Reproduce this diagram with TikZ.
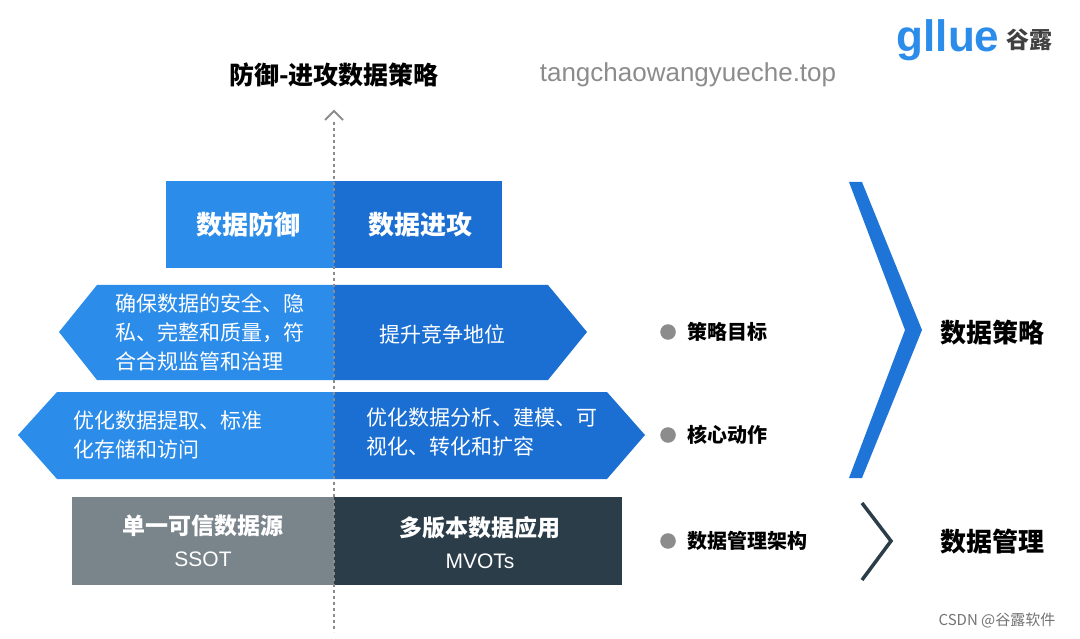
\documentclass[tikz,border=0pt]{standalone}
\usepackage{fontspec}
\setmainfont{Noto Sans CJK SC}
\setsansfont{Liberation Sans}
\usetikzlibrary{positioning}
\definecolor{defblue}{HTML}{2B8CEA}
\definecolor{attblue}{HTML}{1B6FD2}
\definecolor{ssotgray}{HTML}{7A848B}
\definecolor{mvotdark}{HTML}{2B3D49}
\definecolor{dotgray}{HTML}{8C8C8C}
\tikzset{
  boxtext/.style={text=white, font=\fontsize{21}{29}\selectfont, align=left},
  headtext/.style={text=white, font=\bfseries\fontsize{26}{30}\selectfont},
  bullettext/.style={font=\bfseries\fontsize{20}{22}\selectfont, right},
  sidetext/.style={font=\bfseries\fontsize{26}{30}\selectfont},
}
\begin{document}
\begin{tikzpicture}[x=1pt,y=-1pt]
  \useasboundingbox (0,0) rectangle (1080,639);

  % Title and watermark
  \node[font=\bfseries\fontsize{25}{28}\selectfont] (title) at (334,75) {防御-进攻数据策略};
  \node[font=\sffamily\fontsize{26}{28}\selectfont, text=black!45] (mark) at (688,75) {tangchaowangyueche.top};

  % Logo
  \node[font=\sffamily\bfseries\fontsize{44}{46}\selectfont, text=defblue, inner sep=0] (logo) at (948,40) {gllue};
  \node[font=\bfseries\fontsize{23}{24}\selectfont, text=black!75, right=3pt of logo] (logocn) {谷露};

  % Top boxes
  \fill[defblue] (166,181) rectangle (334,268);
  \fill[attblue] (334,181) rectangle (502,268);
  \node[headtext] (def) at (248,225) {数据防御};
  \node[headtext] (att) at (420,225) {数据进攻};

  % Goals row
  \fill[defblue] (334,285) -- (97,285) -- (59,332) -- (97,380) -- (334,380) -- cycle;
  \fill[attblue] (334,285) -- (548,285) -- (587,332) -- (548,380) -- (334,380) -- cycle;
  \node[boxtext] (goalL) at (210,332) {确保数据的安全、隐\\私、完整和质量，符\\合合规监管和治理};
  \node[boxtext] (goalR) at (442,334) {提升竞争地位};

  % Actions row
  \fill[defblue] (334,392) -- (57,392) -- (18,435) -- (57,479) -- (334,479) -- cycle;
  \fill[attblue] (334,392) -- (607,392) -- (645,435) -- (607,479) -- (334,479) -- cycle;
  \node[boxtext] (actL) at (168,435) {优化数据提取、标准\\化存储和访问};
  \node[boxtext] (actR) at (482,432) {优化数据分析、建模、可\\视化、转化和扩容};

  % Architecture row
  \fill[ssotgray] (72,497) rectangle (334,585);
  \fill[mvotdark] (334,497) rectangle (622,585);
  \node[text=white, align=center, font=\bfseries\fontsize{23}{32}\selectfont] (ssot) at (203,541) {单一可信数据源\\\sffamily\mdseries\fontsize{21}{32}\selectfont SSOT};
  \node[text=white, align=center, font=\bfseries\fontsize{23}{32}\selectfont] (mvot) at (480,543) {多版本数据应用\\\sffamily\mdseries\fontsize{21}{32}\selectfont MVOTs};

  % Axis
  \coordinate (axtop) at (334,122);
  \coordinate (axbot) at (334,632);
  \draw[black!45, dashed, line width=1.5pt] (axtop) -- (axbot);
  \draw[black!45, line width=2pt] (325,120) -- (334,111) -- (343,120);

  % Bullets
  \foreach \y/\t in {332/策略目标, 435/核心动作, 541/数据管理架构}
    \node[bullettext, label={[fill=dotgray, circle, inner sep=5.5pt, label distance=8pt]left:{}}] at (684,\y) {\t};

  % Chevrons
  \fill[attblue!80!defblue] (849,182) -- (862,182) -- (922,330) -- (862,478) -- (849,478) -- (905,330) -- cycle;
  \draw[mvotdark, line width=3.5pt] (862,503) -- (891,541) -- (862,580);
  \node[sidetext] (strat) at (992,333) {数据策略};
  \node[sidetext] (mgmt) at (992,542) {数据管理};

  \node[font=\fontsize{15}{16}\selectfont, text=black!55] (csdn) at (997,620) {CSDN @谷露软件};
\end{tikzpicture}
\end{document}
